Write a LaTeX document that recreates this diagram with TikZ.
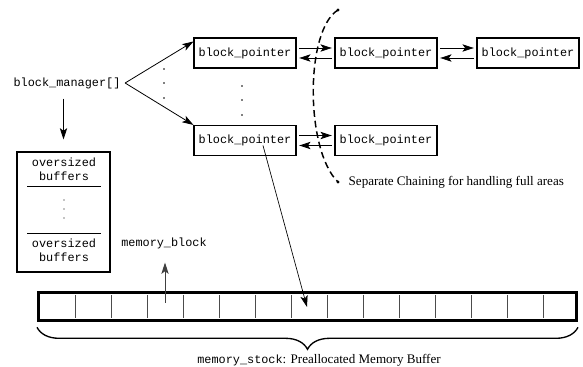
\documentclass[tikz,border=0pt]{standalone}
\usepackage{fontspec}
\setmainfont{Liberation Serif}
\setmonofont{Liberation Mono}
\usetikzlibrary{arrows.meta,decorations.pathreplacing}

\newcommand{\codetxt}[1]{{\ttfamily\fontsize{8.9}{10.5}\selectfont #1}}

\tikzset{
  mono/.style={font=\ttfamily\fontsize{8.9}{10.5}\selectfont},
  note/.style={font=\fontsize{9.8}{12}\selectfont},
  ptrbox/.style={draw, line width=0.8pt, minimum width=76.5pt, minimum height=22.5pt,
    inner sep=0pt, mono},
  link/.style={-{Stealth[length=8.5pt,width=5.5pt,inset=2pt]}, line width=0.6pt},
}

\begin{document}
\begin{tikzpicture}[x=0.75pt,y=-0.75pt]

    \useasboundingbox (0,0) rectangle (583,367);

    % The manager array
    \node[mono] (mgr) at (67,83) {block\_manager[]};

    % Pointer blocks
    \node[ptrbox] (bp1) at (245,53)    {block\_pointer};
    \node[ptrbox] (bp2) at (386,53)    {block\_pointer};
    \node[ptrbox] (bp3) at (528,53)    {block\_pointer};
    \node[ptrbox] (bp4) at (245,140.5) {block\_pointer};
    \node[ptrbox] (bp5) at (386,140.5) {block\_pointer};

    % Double links along each chain
    \foreach \a/\b in {bp1/bp2, bp2/bp3, bp4/bp5} {
        \draw[link, shorten <=2pt, shorten >=2pt] ([yshift=3.75pt]\a.east) -- ([yshift=3.75pt]\b.west);
        \draw[link, shorten <=2pt, shorten >=2pt] ([yshift=-3.75pt]\b.west) -- ([yshift=-3.75pt]\a.east);
    }

    % Manager points to the first block of each chain
    \draw[link] (mgr.east) -- ([yshift=-3pt]bp1.north west);
    \draw[link] (mgr.east) -- (bp4.north west);

    % Elided entries
    \foreach \y in {69,83,98}  \fill (164,\y) circle (0.6pt);
    \foreach \y in {86,100,115} \fill (242,\y) circle (0.6pt);

    % Oversized buffers
    \node[draw, line width=0.8pt, minimum width=69.75pt, minimum height=90pt] (ovs) at (63.5,212) {};
    \node[mono, align=center] (ovtop) at (64,169) {oversized\\buffers};
    \node[mono, align=center] (ovbot) at (64,250) {oversized\\buffers};
    \draw[line width=0.6pt] (27,186) -- (101,186);
    \draw[line width=0.6pt] (27,233) -- (101,233);
    \foreach \y in {200,209,218} \fill (64,\y) circle (0.5pt);
    \draw[link, shorten <=4pt, shorten >=9pt] (mgr.south -| ovs.north) -- (ovs.north);

    % The memory stock
    \node[draw, line width=2.2pt, minimum width=403.5pt, minimum height=21pt, inner sep=0pt] (stock) at (307.5,306.5) {};
    \foreach \k in {1,...,14}
        \draw[black!70, line width=0.6pt] (39+36*\k,295) -- (39+36*\k,318);

    % Brace and its label
    \draw[line width=1pt, decorate, decoration={brace, mirror, amplitude=16.5pt}]
        ([yshift=-4pt]stock.south west) -- ([yshift=-4pt]stock.south east);
    \node[note] (stocklbl) at (319,360) {\codetxt{memory\_stock}: Preallocated Memory Buffer};

    % memory_block
    \node[mono] (mblk) at (164,243) {memory\_block};
    \coordinate (mcell) at (165,303);
    \draw[link, black!75, shorten >=7pt] (mcell) -- (mcell |- mblk.south);

    % A block pointer refers into the stock
    \coordinate (slot) at (307,307);
    \draw[link, line width=0.5pt] ([shift={(18,5)}]bp4.center) -- (slot);

    % Separate chaining
    \node[note, anchor=west] (chainlbl) at (344,182) {Separate Chaining for handling full areas};
    \coordinate (chaintop) at (338,10);
    \coordinate (chainbot) at (338,182);
    \draw[line width=1.1pt, dash pattern=on 5pt off 3pt]
        (chaintop) .. controls (305,30) and (305,150) .. (chainbot);
    \fill (chaintop) circle (1.3pt);
    \fill (chainbot) circle (1.3pt);

\end{tikzpicture}
\end{document}
